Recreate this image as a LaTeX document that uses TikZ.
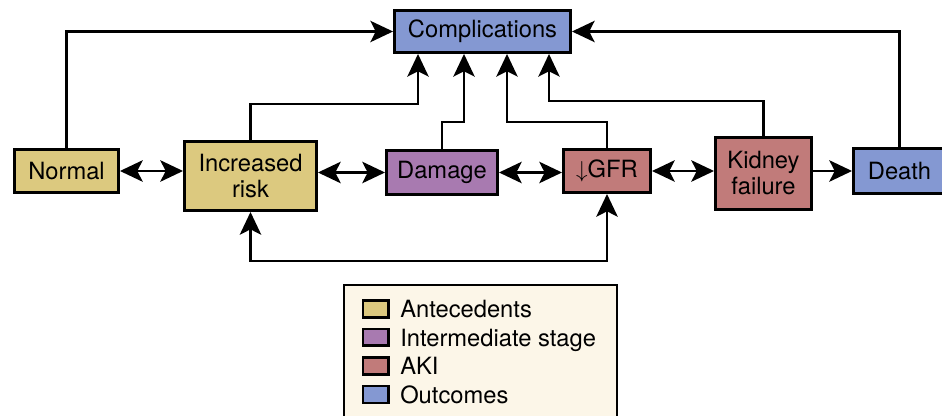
\documentclass[tikz,border=0pt]{standalone}
\usepackage{fontspec}
\setmainfont{TeX Gyre Heros}
\usetikzlibrary{arrows.meta,calc}
\definecolor{antec}{RGB}{220,201,127}
\definecolor{interm}{RGB}{168,122,176}
\definecolor{akired}{RGB}{193,123,122}
\definecolor{outcome}{RGB}{132,152,210}
\definecolor{legendbg}{RGB}{252,246,232}
\tikzset{
  stagebox/.style={draw=black, line width=2.2pt, inner sep=0pt, align=center,
    font=\fontsize{17.8}{19.5}\selectfont},
  conn/.style={line width=1.6pt, -{Stealth[length=17pt,width=16pt,inset=4pt]}},
  biarrow/.style={line width=2.2pt, {Stealth[length=17pt,width=16pt,inset=4pt]}-{Stealth[length=17pt,width=16pt,inset=4pt]}},
  keybox/.style={draw=black, line width=2pt, minimum width=19pt, minimum height=12.5pt, inner sep=0pt},
  keytext/.style={anchor=base west, inner sep=0pt, font=\fontsize{17.8}{19.5}\selectfont}
}
\begin{document}
\begin{tikzpicture}[x=0.75pt,y=0.75pt,yscale=-1,xscale=1]
        \clip (0,0) rectangle (942,416);
        \useasboundingbox (0,0) rectangle (942,416);
        % stages
        \node[stagebox, fill=outcome, minimum width=132pt, minimum height=31.5pt] (comp) at (482.5,31.5) {Complications};
        \node[stagebox, fill=antec, minimum width=78pt, minimum height=32.3pt] (normal) at (66.5,171) {Normal};
        \node[stagebox, fill=antec, minimum width=99pt, minimum height=51.8pt] (ir) at (250.5,176) {Increased\\risk};
        \node[stagebox, fill=interm, minimum width=83.3pt, minimum height=33pt] (dmg) at (442,172.5) {Damage};
        \node[stagebox, fill=akired, minimum width=65.3pt, minimum height=32.3pt] (gfr) at (607,171) {$\downarrow$GFR};
        \node[stagebox, fill=akired, minimum width=72pt, minimum height=54pt] (kf) at (763.5,173.5) {Kidney\\failure};
        \node[stagebox, fill=outcome, minimum width=69pt, minimum height=33.8pt] (death) at (899.5,171) {Death};
        % chain
        \draw[biarrow] (normal.east) -- (normal.east -| ir.west);
        \draw[biarrow] (dmg.west -| ir.east) -- (dmg.west);
        \draw[biarrow] (dmg.east) -- (dmg.east -| gfr.west);
        \draw[biarrow] (gfr.east) -- (gfr.east -| kf.west);
        \draw[conn, line width=2.2pt] (death.west -| kf.east) -- (death.west);
        \draw[biarrow] (ir.south) -- ++(0,49) -| (gfr.south);
        % to complications
        \draw[conn] (normal.north) |- (comp.west);
        \draw[conn] (death.north) |- (comp.east);
        \draw[conn] (ir.north) -- ++(0,-36) -| ($(comp.south)+(-64.5,0)$);
        \draw[conn] (dmg.north) -- ++(0,-27) -| ($(comp.south)+(-18.5,0)$);
        \draw[conn] (gfr.north) -- ++(0,-26) -| ($(comp.south)+(24.5,0)$);
        \draw[conn] (kf.north) -- ++(0,-35) -| ($(comp.south)+(66.5,0)$);
        % legend
        \draw[line width=2pt, fill=legendbg] (344,285) rectangle (617,440);
        \foreach \col/\txt [count=\i] in {antec/Antecedents, interm/Intermediate stage, akired/AKI, outcome/Outcomes} {
          \node[keybox, fill=\col] (key\i) at (375.5,280.5+28.5*\i) {};
          \node[keytext] (lbl\i) at (400,289.5+28.5*\i) {\txt};
        }
\end{tikzpicture}
\end{document}
